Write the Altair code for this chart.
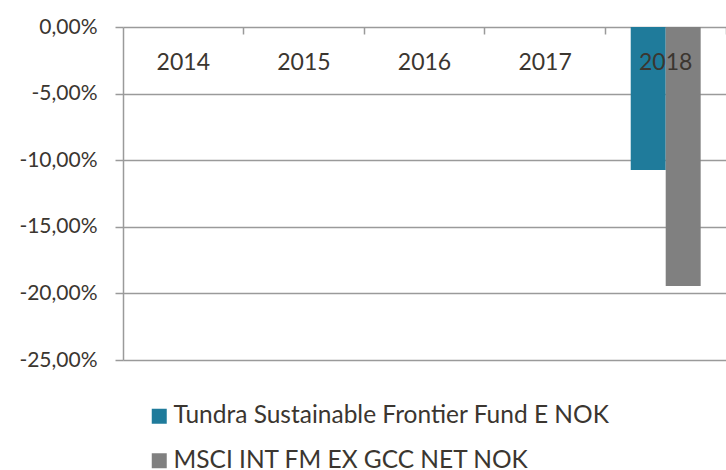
import altair as alt
import pandas as pd

years = ["2014", "2015", "2016", "2017", "2018"]
series = ["Tundra Sustainable Frontier Fund E NOK", "MSCI INT FM EX GCC NET NOK"]
tundra = [None, None, None, None, -0.1074]
msci = [None, None, None, None, -0.1944]
colors = ["#1f7b9b", "#808080"]
y_ticks = [0.0, -0.05, -0.10, -0.15, -0.20, -0.25]

rows = []
for i, yr in enumerate(years):
    rows.append({"year": yr, "series": series[0], "value": tundra[i]})
    rows.append({"year": yr, "series": series[1], "value": msci[i]})
df = pd.DataFrame(rows)

font = "Lato"
text_color = "#3b3630"
grid_color = "#9a9a9a"

label_expr = ("(datum.value < 0 ? '-' : '') + "
              "replace(format(abs(datum.value) * 100, '.2f'), '.', ',') + '%'")

W, H = 603, 333
PAD_INNER = 0.42
x_scale = alt.Scale(domain=years, paddingInner=PAD_INNER, paddingOuter=PAD_INNER / 2)
y_scale = alt.Scale(domain=[-0.25, 0], nice=False)
y_axis = alt.Axis(title=None, values=y_ticks, labelExpr=label_expr, grid=True,
                  gridColor=grid_color, gridWidth=1.5, domainColor=grid_color,
                  domainWidth=1.5, tickColor=grid_color, tickWidth=1.5, tickSize=8,
                  labelPadding=18, labelFontSize=21, labelFont=font,
                  labelColor=text_color)

bars = alt.Chart(df).mark_bar().encode(
    x=alt.X(
        "year:N",
        scale=x_scale,
        axis=alt.Axis(orient="top", title=None, labelAngle=0, domain=False, ticks=False,
                      labelPadding=-42, labelBaseline="alphabetic", labelFontSize=23,
                      labelColor=text_color, labelFont=font, zindex=1),
    ),
    xOffset=alt.XOffset("series:N", scale=alt.Scale(domain=series, paddingInner=0, paddingOuter=0)),
    y=alt.Y("value:Q", scale=y_scale, axis=y_axis),
    color=alt.Color(
        "series:N",
        scale=alt.Scale(domain=series, range=colors),
        legend=alt.Legend(orient="none", legendX=24, legendY=377, direction="vertical",
                          title=None, symbolType="square", symbolSize=225, padding=0,
                          symbolStrokeWidth=0, labelFontSize=24.5, labelFont=font,
                          labelColor=text_color, labelOffset=2, rowPadding=19.5,
                          labelLimit=0),
    ),
)

# inward category tick marks along the top edge, at category boundaries
boundary = 1 + (PAD_INNER / 2) / (1 - PAD_INNER)
ticks_layer = alt.Chart(df).mark_bar(opacity=0).encode(
    x=alt.X(
        "year:N",
        scale=x_scale,
        axis=alt.Axis(orient="bottom", title=None, labels=False, domain=False,
                      ticks=True, tickSize=7, tickColor=grid_color, tickWidth=1.5,
                      bandPosition=boundary, offset=-H, grid=False),
    ),
    y=alt.Y("value:Q", scale=y_scale, axis=y_axis),
)

chart = alt.layer(bars, ticks_layer).resolve_axis(x="independent").properties(
    width=W,
    height=H,
    autosize="none",
    padding={"left": 123, "top": 27, "right": 0, "bottom": 110},
).configure_view(stroke=None)

chart.save("out.html", embed_options={"renderer": "svg", "actions": False})
